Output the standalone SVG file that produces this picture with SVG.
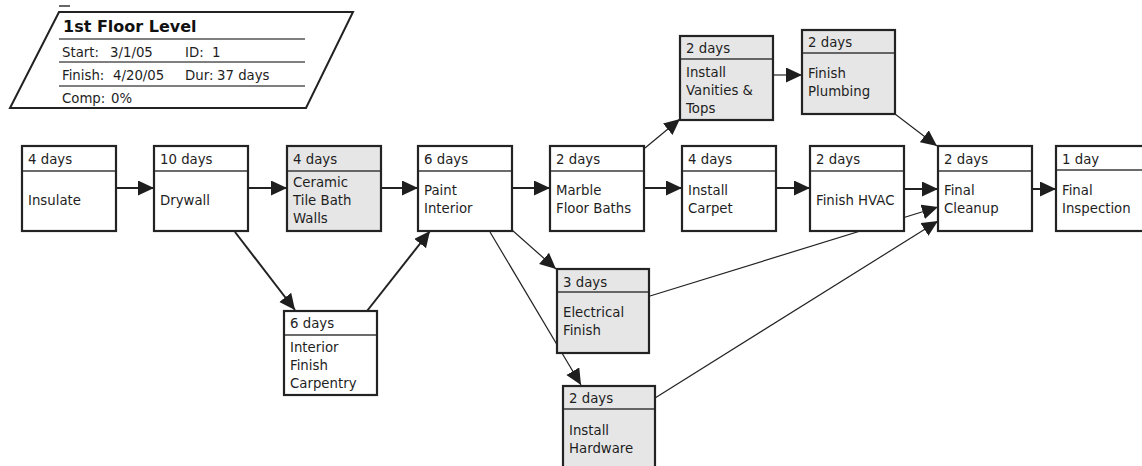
<svg xmlns="http://www.w3.org/2000/svg" width="1142" height="466" viewBox="0 0 1142 466">
<style>
.bg{fill:#ffffff}
.box{fill:#ffffff;stroke:#232323;stroke-width:2.2}
.box.g{fill:#e6e6e6}
.div{stroke:#3a3a3a;stroke-width:1.5}
.t{font-family:"DejaVu Sans",Verdana,sans-serif;font-size:13.3px;fill:#1e1e1e}
.title{font-family:"DejaVu Sans",Verdana,sans-serif;font-size:16px;font-weight:bold;fill:#111}
.c{fill:none;stroke:#222;stroke-width:2;marker-end:url(#ah)}
.c.thin{stroke-width:1.2}
.hdr{fill:#ffffff;stroke:#222;stroke-width:2}
.hl{stroke:#555;stroke-width:1.5}
</style>
<defs>
<marker id="ah" markerUnits="userSpaceOnUse" markerWidth="17" markerHeight="16" refX="16" refY="7.5" orient="auto">
<path d="M0,0 L16,7.5 L0,15 z" fill="#1e1e1e"/>
</marker>
</defs>
<rect class="bg" x="0" y="0" width="1142" height="466"/>

<g id="summary">
<line x1="59" y1="6" x2="70" y2="6" stroke="#333" stroke-width="1.5"/>
<polygon class="hdr" points="59,12 353,12 306,108 10,108"/>
<text class="title" x="63" y="32">1st Floor Level</text>
<line class="hl" x1="59" y1="39" x2="305" y2="39"/>
<line class="hl" x1="59" y1="62" x2="305" y2="62"/>
<line class="hl" x1="59" y1="86" x2="305" y2="86"/>
<text class="t" x="62" y="57">Start:</text>
<text class="t" x="110" y="57">3/1/05</text>
<text class="t" x="185" y="57">ID:</text>
<text class="t" x="212" y="57">1</text>
<text class="t" x="62" y="80">Finish:</text>
<text class="t" x="113" y="80">4/20/05</text>
<text class="t" x="185" y="80">Dur:</text>
<text class="t" x="217" y="80">37 days</text>
<text class="t" x="62" y="103">Comp:</text>
<text class="t" x="111" y="103">0%</text>
</g>

<g id="connectors">
<line class="c" x1="116" y1="188" x2="154" y2="188"/>
<line class="c" x1="248" y1="188" x2="287" y2="188"/>
<line class="c" x1="381" y1="188" x2="418" y2="188"/>
<line class="c" x1="512" y1="188" x2="550" y2="188"/>
<line class="c" x1="644" y1="188" x2="682" y2="188"/>
<line class="c" x1="776" y1="188" x2="810" y2="188"/>
<line class="c" x1="904" y1="189" x2="938" y2="189"/>
<line class="c" x1="1032" y1="189" x2="1056" y2="189"/>
<line class="c" x1="235" y1="232" x2="295" y2="310"/>
<line class="c" x1="367" y1="311" x2="430" y2="231"/>
<line class="c thin" x1="512" y1="230" x2="556" y2="269"/>
<line class="c thin" x1="490" y1="232" x2="581" y2="385"/>
<line class="c thin" x1="645" y1="148" x2="680" y2="119"/>
<line class="c thin" x1="773" y1="75" x2="802" y2="75"/>
<line class="c thin" x1="895" y1="114" x2="937" y2="146"/>
<line class="c thin" x1="650" y1="296" x2="938" y2="207"/>
<line class="c thin" x1="655" y1="398" x2="938" y2="221"/>
</g>

<g id="n-insulate">
<rect class="box" x="22" y="146" width="94" height="85"/>
<line class="div" x1="23" y1="171" x2="115" y2="171"/>
<text class="t" x="28" y="164">4 days</text>
<text class="t" x="28" y="205">Insulate</text>
</g>
<g id="n-drywall">
<rect class="box" x="154" y="146" width="94" height="85"/>
<line class="div" x1="155" y1="171" x2="247" y2="171"/>
<text class="t" x="160" y="164">10 days</text>
<text class="t" x="160" y="205">Drywall</text>
</g>
<g id="n-ceramic">
<rect class="box g" x="287" y="146" width="94" height="85"/>
<line class="div" x1="288" y1="171" x2="380" y2="171"/>
<text class="t" x="293" y="164">4 days</text>
<text class="t" x="293" y="187">Ceramic</text>
<text class="t" x="293" y="205">Tile Bath</text>
<text class="t" x="293" y="223">Walls</text>
</g>
<g id="n-paint">
<rect class="box" x="418" y="146" width="94" height="85"/>
<line class="div" x1="419" y1="171" x2="511" y2="171"/>
<text class="t" x="424" y="164">6 days</text>
<text class="t" x="424" y="195">Paint</text>
<text class="t" x="424" y="213">Interior</text>
</g>
<g id="n-marble">
<rect class="box" x="550" y="146" width="94" height="85"/>
<line class="div" x1="551" y1="171" x2="643" y2="171"/>
<text class="t" x="556" y="164">2 days</text>
<text class="t" x="556" y="195">Marble</text>
<text class="t" x="556" y="213">Floor Baths</text>
</g>
<g id="n-carpet">
<rect class="box" x="682" y="146" width="94" height="85"/>
<line class="div" x1="683" y1="171" x2="775" y2="171"/>
<text class="t" x="688" y="164">4 days</text>
<text class="t" x="688" y="195">Install</text>
<text class="t" x="688" y="213">Carpet</text>
</g>
<g id="n-hvac">
<rect class="box" x="810" y="146" width="94" height="85"/>
<line class="div" x1="811" y1="171" x2="903" y2="171"/>
<text class="t" x="816" y="164">2 days</text>
<text class="t" x="816" y="205">Finish HVAC</text>
</g>
<g id="n-cleanup">
<rect class="box" x="938" y="146" width="94" height="85"/>
<line class="div" x1="939" y1="171" x2="1031" y2="171"/>
<text class="t" x="944" y="164">2 days</text>
<text class="t" x="944" y="195">Final</text>
<text class="t" x="944" y="213">Cleanup</text>
</g>
<g id="n-inspection">
<rect class="box" x="1056" y="146" width="94" height="85"/>
<line class="div" x1="1057" y1="170" x2="1149" y2="170"/>
<text class="t" x="1062" y="164">1 day</text>
<text class="t" x="1062" y="195">Final</text>
<text class="t" x="1062" y="213">Inspection</text>
</g>
<g id="n-vanities">
<rect class="box g" x="680" y="36" width="93" height="84"/>
<line class="div" x1="681" y1="59" x2="772" y2="59"/>
<text class="t" x="686" y="53">2 days</text>
<text class="t" x="686" y="77">Install</text>
<text class="t" x="686" y="95">Vanities &amp;</text>
<text class="t" x="686" y="113">Tops</text>
</g>
<g id="n-plumbing">
<rect class="box g" x="802" y="30" width="93" height="84"/>
<line class="div" x1="803" y1="53" x2="894" y2="53"/>
<text class="t" x="808" y="47">2 days</text>
<text class="t" x="808" y="78">Finish</text>
<text class="t" x="808" y="96">Plumbing</text>
</g>
<g id="n-carpentry">
<rect class="box" x="284" y="311" width="93" height="84"/>
<line class="div" x1="285" y1="335" x2="376" y2="335"/>
<text class="t" x="290" y="328">6 days</text>
<text class="t" x="290" y="352">Interior</text>
<text class="t" x="290" y="370">Finish</text>
<text class="t" x="290" y="388">Carpentry</text>
</g>
<g id="n-electrical">
<rect class="box g" x="557" y="269" width="92" height="84"/>
<line class="div" x1="558" y1="292" x2="648" y2="292"/>
<text class="t" x="563" y="287">3 days</text>
<text class="t" x="563" y="317">Electrical</text>
<text class="t" x="563" y="335">Finish</text>
</g>
<g id="n-hardware">
<rect class="box g" x="563" y="386" width="92" height="90"/>
<line class="div" x1="564" y1="409" x2="654" y2="409"/>
<text class="t" x="569" y="403">2 days</text>
<text class="t" x="569" y="435">Install</text>
<text class="t" x="569" y="453">Hardware</text>
</g>
</svg>
